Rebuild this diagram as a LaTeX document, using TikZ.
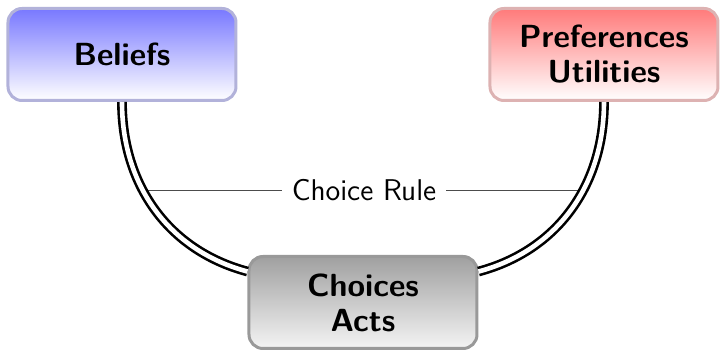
\documentclass[tikz,border=0pt]{standalone}
\usepackage{tikz}
\usepackage{xcolor}
\definecolor{beliefTop}{HTML}{7878FF}
\definecolor{beliefEdge}{HTML}{B2B2DA}
\definecolor{prefTop}{HTML}{FF7A7A}
\definecolor{prefEdge}{HTML}{DDB2B2}
\definecolor{choiceTop}{HTML}{A0A0A0}
\definecolor{choiceBottom}{HTML}{F4F4F4}
\definecolor{choiceEdge}{HTML}{999999}

\begin{document}
\begin{tikzpicture}[x=0.5pt, y=-0.5pt,
  box/.style={rounded corners=7pt, line width=1.5pt, minimum width=114pt,
    minimum height=46pt, align=center,
    font=\fontsize{16}{17.5}\selectfont\sffamily\bfseries},
  link/.style={double, line width=1.3pt, double distance=2.3pt}]
  \useasboundingbox (0,0) rectangle (720,352);
  % the three boxes
  \node[box, draw=beliefEdge, top color=beliefTop, bottom color=white] (beliefs) at (122,54.5) {Beliefs};
  \node[box, draw=prefEdge, top color=prefTop, bottom color=white] (prefs) at (604,54.5) {Preferences\\Utilities};
  \node[box, draw=choiceEdge, top color=choiceTop, bottom color=choiceBottom] (choices) at (363,302.5) {Choices\\Acts};
  % choice rule
  \coordinate (ruleL) at (148,190);
  \coordinate (ruleR) at (580,190);
  \draw[black!70] (ruleL) -- node[fill=white, text=black, inner sep=5pt,
    font=\fontsize{15}{18}\selectfont\sffamily] (rule) {Choice Rule} (ruleR);
  % links
  \draw[link] (beliefs.south) to[out=-90, in=165] (choices.165);
  \draw[link] (prefs.south) to[out=-90, in=15] (choices.15);
\end{tikzpicture}
\end{document}
